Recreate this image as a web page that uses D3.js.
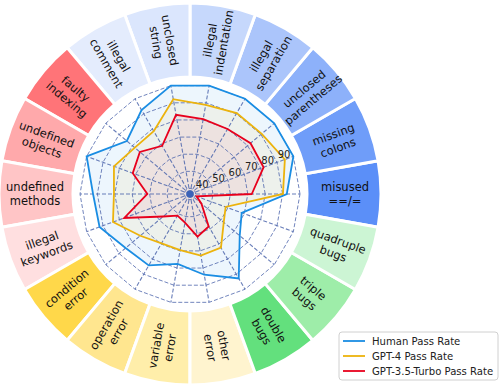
<!DOCTYPE html>
<html>
<head>
<meta charset="utf-8">
<script src="https://cdn.jsdelivr.net/npm/d3@7"></script>
<style>
  body { margin: 0; background: #fff; }
  svg { display: block; font-family: "DejaVu Sans", sans-serif; }
</style>
</head>
<body>
<div id="body"></div>
<script>
// categories, counter-clockwise starting from the right (east)
var categories = [
    ["misused", "==/="], ["missing", "colons"], ["unclosed", "parentheses"],
    ["illegal", "separation"], ["illegal", "indentation"], ["unclosed", "string"],
    ["illegal", "comment"], ["faulty", "indexing"], ["undefined", "objects"],
    ["undefined", "methods"], ["illegal", "keywords"], ["condition", "error"],
    ["operation", "error"], ["variable", "error"], ["other", "error"],
    ["double", "bugs"], ["triple", "bugs"], ["quadruple", "bugs"]
];
var segColors = [
    "#5b8ff8", "#6f9df9", "#8db1fa", "#abc5fb", "#c6d8fc", "#dbe6fd", "#e4ecfd",
    "#ff7478", "#ffa9ab", "#ffc5c6", "#ffdfe0",
    "#ffd84a", "#ffe68f", "#ffeeaa", "#fff4cf",
    "#63e07d", "#9eeda9", "#ccf5d4"
];
var human = [92.4, 100, 100, 100, 100, 100, 92.5, 84.2, 100, 92.5, 92.1, 85.1, 84.2, 77.6, 83.9, 92.8, 74.1, 68.4];
var gpt4 = [90.2, 94.8, 90.6, 90.5, 88.8, 92.1, 78.5, 78.2, 83.3, 80.5, 83.9, 74.1, 69.5, 69.5, 72.7, 72.4, 62.1, 58.6];
var gpt35 = [72.3, 81.8, 82.2, 79.9, 80.5, 83.0, 68.8, 74.4, 71.8, 61.3, 77.0, 56.9, 51.2, 53.5, 61.7, 58.3, 45.4, 40.8];
var tickValues = [40, 50, 60, 70, 80, 90];
var gridLevels = [40, 50, 60, 70, 80, 90, 100];
var seriesNames = ["Human Pass Rate", "GPT-4 Pass Rate", "GPT-3.5-Turbo Pass Rate"];
var seriesColors = ["#1a8de3", "#ecb30c", "#e8001c"];

var width = 500, height = 384;
var cx = 190, cy = 194;
var n = categories.length;
var step = 360 / n;

var r = d3.scaleLinear().domain([36.8, 100]).range([0, 110]);

// math angle (deg, ccw from east) -> d3 radial angle (rad, cw from north)
function toD3(deg) { return (90 - deg) * Math.PI / 180; }

var svg = d3.select("#body").append("svg")
    .attr("width", width)
    .attr("height", height);

var g = svg.append("g")
    .attr("transform", "translate(" + cx + "," + cy + ")");

// outer label ring
var arc = d3.arc()
    .innerRadius(117)
    .outerRadius(191);

var seg = g.selectAll(".seg")
    .data(categories)
    .enter().append("g")
    .attr("class", "seg");

seg.append("path")
    .attr("d", function (d, i) {
        var a = i * step;
        return arc({ startAngle: toD3(a + step / 2), endAngle: toD3(a - step / 2) });
    })
    .attr("fill", function (d, i) { return segColors[i]; })
    .attr("stroke", "#fff")
    .attr("stroke-width", 3);

seg.append("text")
    .attr("transform", function (d, i) {
        var a = i * step;
        var rad = a * Math.PI / 180;
        var x = 155 * Math.cos(rad), y = -155 * Math.sin(rad);
        var rot = a <= 90 ? -a : (a <= 270 ? 180 - a : 360 - a);
        return "translate(" + x + "," + y + ") rotate(" + rot + ")";
    })
    .attr("text-anchor", "middle")
    .attr("font-size", 11.5)
    .attr("fill", "#111")
    .selectAll("tspan")
    .data(function (d) { return d; })
    .enter().append("tspan")
    .attr("x", 0)
    .attr("y", function (d, j) { return j === 0 ? -3 : 11; })
    .text(function (d) { return d; });

// radar background
g.append("circle")
    .attr("r", 113)
    .attr("fill", "#fff");

var radial = d3.lineRadial()
    .angle(function (d, i) { return toD3(i * step); })
    .radius(function (d) { return r(d); })
    .curve(d3.curveLinearClosed);

// filled series, drawn outer first
var series = [human, gpt4, gpt35];
var fillOpacity = [0.08, 0.07, 0.06];
series.forEach(function (s, k) {
    g.append("path")
        .attr("d", radial(s))
        .attr("fill", seriesColors[k])
        .attr("fill-opacity", fillOpacity[k])
        .attr("stroke", "none");
});

// grid polygons
gridLevels.forEach(function (lv) {
    g.append("path")
        .attr("d", radial(d3.range(n).map(function () { return lv; })))
        .attr("fill", "none")
        .attr("stroke", "#4f67ad")
        .attr("stroke-opacity", 0.8)
        .attr("stroke-width", 1)
        .attr("stroke-dasharray", "4,2");
});

// spokes
g.selectAll(".spoke")
    .data(categories)
    .enter().append("line")
    .attr("class", "spoke")
    .attr("x1", 0).attr("y1", 0)
    .attr("x2", function (d, i) { return r(100) * Math.cos(i * step * Math.PI / 180); })
    .attr("y2", function (d, i) { return -r(100) * Math.sin(i * step * Math.PI / 180); })
    .attr("stroke", "#4f67ad")
    .attr("stroke-opacity", 0.85)
    .attr("stroke-width", 1.1)
    .attr("stroke-dasharray", "4,2");

// series outlines
series.forEach(function (s, k) {
    g.append("path")
        .attr("d", radial(s))
        .attr("fill", "none")
        .attr("stroke", seriesColors[k])
        .attr("stroke-width", 1.8)
        .attr("stroke-linejoin", "miter");
});

g.append("circle")
    .attr("r", 3.6)
    .attr("fill", "#3a62b8");

// radial tick labels along the 20 degree spoke
var la = 20 * Math.PI / 180;
g.selectAll(".rtick")
    .data(tickValues)
    .enter().append("text")
    .attr("class", "rtick")
    .attr("x", function (d) { return r(d) * Math.cos(la) + 7; })
    .attr("y", function (d) { return -r(d) * Math.sin(la) - 8; })
    .attr("text-anchor", "middle")
    .attr("dominant-baseline", "central")
    .attr("font-size", 10)
    .attr("fill", "#222")
    .text(function (d) { return d; });

// legend
var legend = svg.append("g")
    .attr("transform", "translate(339,332)");

legend.append("rect")
    .attr("width", 159)
    .attr("height", 48)
    .attr("rx", 3)
    .attr("fill", "#fff")
    .attr("stroke", "#d0d0d0");

var item = legend.selectAll(".item")
    .data(seriesNames)
    .enter().append("g")
    .attr("class", "item")
    .attr("transform", function (d, i) { return "translate(0," + (9 + i * 15) + ")"; });

item.append("line")
    .attr("x1", 4).attr("x2", 26)
    .attr("stroke", function (d, i) { return seriesColors[i]; })
    .attr("stroke-width", 1.8);

item.append("text")
    .attr("x", 33)
    .attr("dominant-baseline", "central")
    .attr("font-size", 10.1)
    .attr("fill", "#222")
    .text(function (d) { return d; });
</script>
</body>
</html>
